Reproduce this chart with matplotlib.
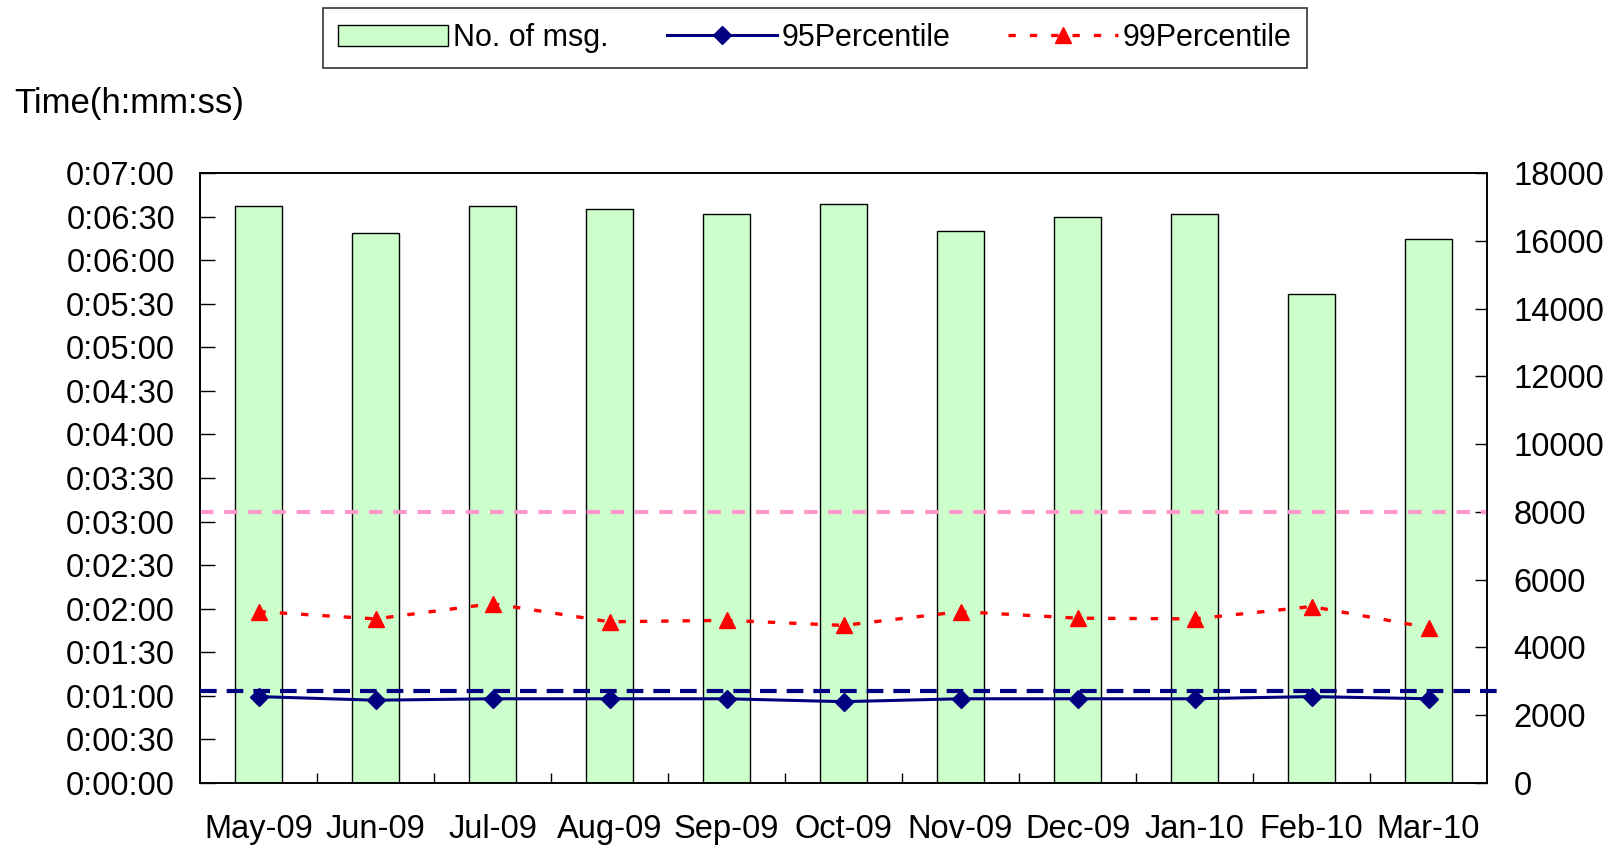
import matplotlib
matplotlib.use("Agg")
import matplotlib.pyplot as plt
from matplotlib.ticker import FixedLocator, FuncFormatter, MultipleLocator
from matplotlib.patches import Patch
from matplotlib.lines import Line2D

plt.rcParams['font.family'] = ['Liberation Sans', 'DejaVu Sans']

months = ["May-09", "Jun-09", "Jul-09", "Aug-09", "Sep-09", "Oct-09",
          "Nov-09", "Dec-09", "Jan-10", "Feb-10", "Mar-10"]
msg_count = [17030, 16220, 17030, 16930, 16780, 17100, 16280, 16690, 16780, 14420, 16040]
p95_sec = [59.5, 57.0, 58.0, 58.0, 58.0, 56.0, 58.0, 58.0, 58.0, 59.5, 58.0]
p99_sec = [118.0, 113.0, 123.5, 111.0, 112.0, 108.5, 118.0, 113.5, 113.0, 121.5, 107.0]
p95_ref_sec = 63.5     # navy dashed reference line (left axis)
count_ref = 8000       # pink dashed reference line (right axis)

W, H = 1612, 849
fig = plt.figure(figsize=(W / 100, H / 100), dpi=100)
L, R, B, T = 200, 1487, 783, 173
ax = fig.add_axes([L / W, 1 - B / H, (R - L) / W, (B - T) / H])
ax2 = ax.twinx()

x = list(range(len(months)))
FS = 23.5

# bars on right axis
ax2.bar(x, msg_count, width=0.40, color='#CCFFCC', edgecolor='black', linewidth=1.0, zorder=2)
ax2.axhline(count_ref, color='#FF99CC', lw=3, ls=(0, (3.2, 2.6)), zorder=3)
ax2.set_ylim(0, 18000)
ax2.yaxis.set_major_locator(MultipleLocator(2000))
ax2.tick_params(axis='y', direction='in', length=9, width=1, labelsize=FS, pad=19)

# lines on left axis
ax.set_zorder(ax2.get_zorder() + 1)
ax.patch.set_visible(False)
ax.axhline(p95_ref_sec, xmin=0, xmax=1.009, color='#000080', lw=3, ls=(0, (4, 2.4)),
           clip_on=False, zorder=3)
ax.plot(x, p95_sec, color='#000080', lw=2.2, marker='D', ms=9, zorder=4)
ax.plot(x, p99_sec, color='#FF0000', lw=2.4, ls=(0, (2.2, 4.2)), marker='^', ms=12, zorder=4)
ax.set_ylim(0, 420)
ax.set_xlim(-0.5, len(months) - 0.5)
ax.yaxis.set_major_locator(MultipleLocator(30))
ax.yaxis.set_major_formatter(FuncFormatter(
    lambda v, p: f"{int(v)//3600}:{(int(v)%3600)//60:02d}:{int(v)%60:02d}"))
ax.tick_params(axis='y', direction='in', length=11, width=1, labelsize=FS, pad=18)

ax.set_xticks(x)
ax.set_xticklabels(months)
ax.xaxis.set_minor_locator(FixedLocator([i + 0.5 for i in range(len(months) - 1)]))
ax.tick_params(axis='x', which='major', length=0, labelsize=FS, pad=22)
ax.tick_params(axis='x', which='minor', direction='in', length=7, width=1)

for a in (ax, ax2):
    for s in a.spines.values():
        s.set_linewidth(1.2)
        s.set_color('black')

fig.text(14 / W, 1 - 103 / H, "Time(h:mm:ss)", fontsize=25, va='center', ha='left')

# legend
handles = [
    Patch(facecolor='#CCFFCC', edgecolor='black', linewidth=1.0),
    Line2D([], [], color='#000080', lw=2.2, marker='D', ms=9),
    Line2D([], [], color='#FF0000', lw=2.4, ls=(0, (2.2, 4.2)), marker='^', ms=12),
]
leg = fig.legend(handles, ["No. of msg.", "95Percentile", "99Percentile"],
                 loc='center', bbox_to_anchor=(815 / W, 1 - 38 / H), ncol=3,
                 fontsize=22, frameon=True, fancybox=False, edgecolor='black',
                 handlelength=3.6, handletextpad=0.15, columnspacing=1.9,
                 borderpad=0.5)
leg.get_frame().set_linewidth(1.2)

fig.savefig("out.png", dpi=100, facecolor='white')
